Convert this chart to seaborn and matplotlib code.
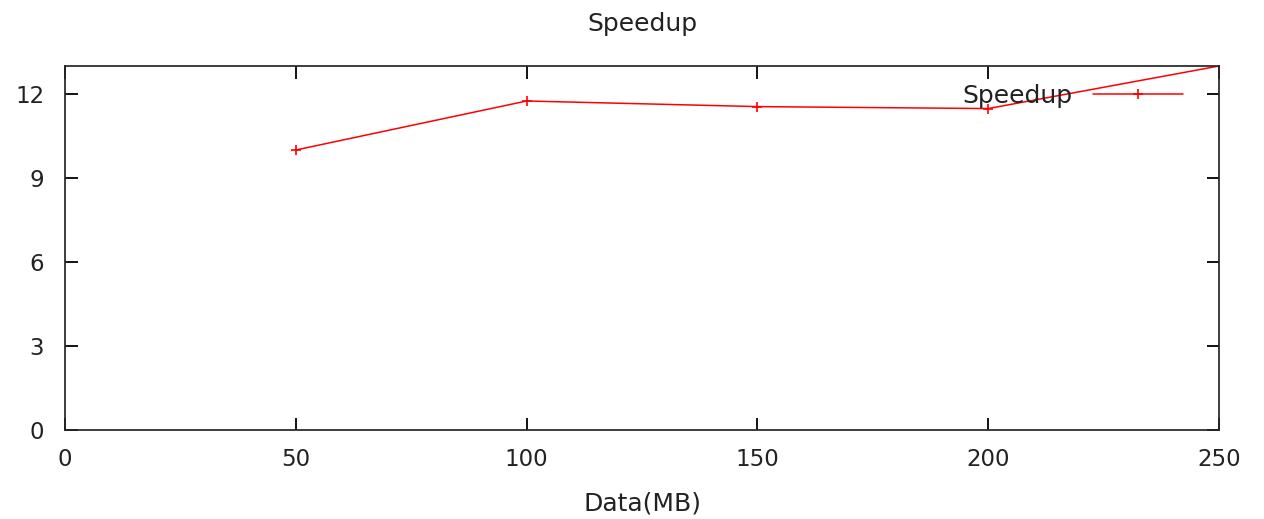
import matplotlib
matplotlib.use("Agg")
import matplotlib.pyplot as plt
import seaborn as sns
import pandas as pd

data_mb = [50, 100, 150, 200, 250]
speedup = [10.0, 11.75, 11.55, 11.48, 13.0]
x_ticks = [0, 50, 100, 150, 200, 250]
y_ticks = [0, 3, 6, 9, 12]

sns.set_theme(style="white")
plt.rcParams['font.family'] = ['DejaVu Sans']
plt.rcParams.update({
    "xtick.bottom": True, "xtick.top": True,
    "ytick.left": True, "ytick.right": True,
    "xtick.direction": "in", "ytick.direction": "in",
    "xtick.major.size": 9, "ytick.major.size": 9,
    "xtick.major.width": 1.3, "ytick.major.width": 1.3,
    "xtick.color": "black", "ytick.color": "black",
    "xtick.labelcolor": "#222222", "ytick.labelcolor": "#222222",
    "xtick.labelsize": 16.5, "ytick.labelsize": 16.5,
    "xtick.major.pad": 13, "ytick.major.pad": 15,
})

df = pd.DataFrame({"Data(MB)": data_mb, "Speedup": speedup})

fig = plt.figure(figsize=(12.64, 5.19), dpi=100, facecolor="white")
ax = fig.add_axes([65/1264, 1-430/519, (1219-65)/1264, (430-66)/519])

sns.lineplot(data=df, x="Data(MB)", y="Speedup", ax=ax, color="red",
             marker="+", markersize=7.5, markeredgewidth=1.2, markeredgecolor="red",
             linewidth=1.1, label="Speedup")

ax.set_xlim(0, 250)
ax.set_ylim(0, 13)
ax.set_xticks(x_ticks)
ax.set_yticks(y_ticks)
ax.tick_params(axis="both", which="major", direction="in", length=9, width=1.3,
               color="black", bottom=True, left=True, top=True, right=True)

ax.set_xlabel("Data(MB)", fontsize=18, labelpad=15, color="#222222")
ax.set_ylabel("")
ax.set_title("Speedup", fontsize=18, pad=25, color="#222222")

leg = ax.legend(loc="upper right", bbox_to_anchor=(1183/1264, 1-84/519),
                bbox_transform=fig.transFigure, frameon=False, markerfirst=False,
                fontsize=18, handlelength=3.6, borderpad=0, borderaxespad=0,
                handletextpad=0.8)
for t in leg.get_texts():
    t.set_color("#222222")

fig.savefig("out.png", dpi=100, facecolor="white")
